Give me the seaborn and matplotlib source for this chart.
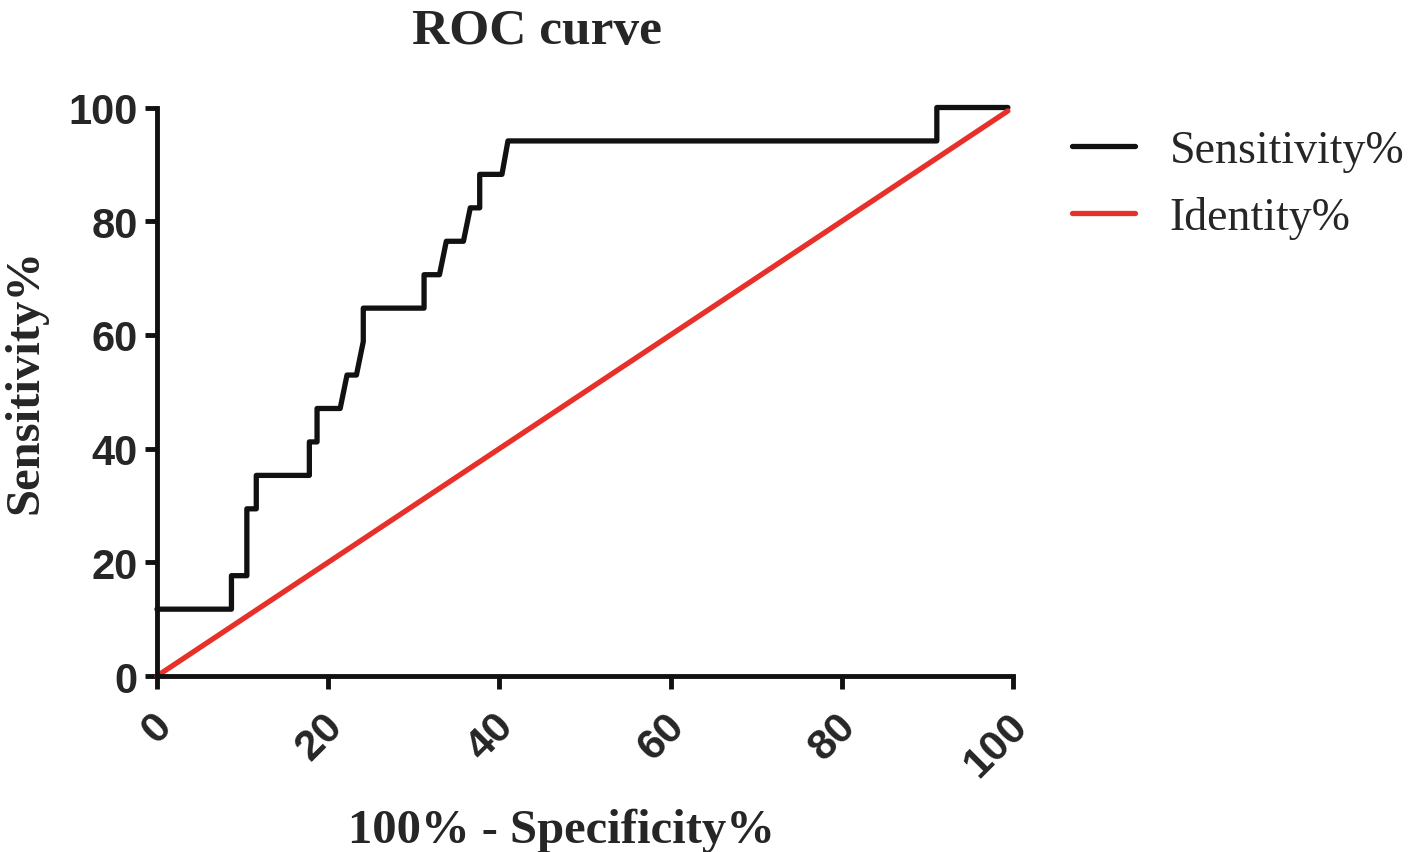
import seaborn as sns
import pandas as pd
import numpy as np
import matplotlib as mpl
import matplotlib.pyplot as plt
import matplotlib.transforms as mtransforms


# ROC curve points (100% - Specificity%, Sensitivity%)
fpr = [0, 8.7, 8.7, 10.5, 10.5, 11.6, 11.6, 17.8, 17.8, 18.7, 18.7, 21.4, 22.2,
       23.3, 24.1, 24.1, 31.2, 31.2, 33.0, 33.8, 35.8, 36.6, 37.7, 37.7, 40.3,
       41.0, 91.1, 91.1, 99.4]
sens = [11.76, 11.76, 17.65, 17.65, 29.41, 29.41, 35.29, 35.29, 41.18, 41.18,
        47.06, 47.06, 52.94, 52.94, 58.82, 64.71, 64.71, 70.59, 70.59, 76.47,
        76.47, 82.35, 82.35, 88.24, 88.24, 94.12, 94.12, 100, 100]
ident_x = [0, 99.4]
ident_y = [0, 99.4]
ticks = [0, 20, 40, 60, 80, 100]

sns.set_style('ticks')
plt.rcParams['font.family'] = ['Liberation Sans', 'DejaVu Sans']

fig = plt.figure(figsize=(14.18, 8.53), dpi=100)
ax = fig.add_axes([0.1107, 0.2063, 0.6037, 0.6665])

sns.lineplot(x=fpr, y=sens, sort=False, estimator=None, color='#111111',
             linewidth=3.8, label='Sensitivity%', ax=ax, clip_on=False)
sns.lineplot(x=ident_x, y=ident_y, sort=False, estimator=None, color='#e8302a',
             linewidth=3.8, label='Identity%', ax=ax, clip_on=False)

ax.set_xlim(0, 100)
ax.set_ylim(0, 100)
ax.set_xticks(ticks)
ax.set_yticks(ticks)
sns.despine(ax=ax)
for s in ['left', 'bottom']:
    ax.spines[s].set_linewidth(3.5)
    ax.spines[s].set_color('#111111')
ax.tick_params(width=3.5, length=9, color='#111111')
ax.tick_params(axis='y', pad=5)
ax.tick_params(axis='x', pad=22)

for lab in ax.get_yticklabels():
    lab.set_fontsize(30)
    lab.set_fontweight('bold')
off = mtransforms.ScaledTranslation(8 / 100, 0, fig.dpi_scale_trans)
for lab in ax.get_xticklabels():
    lab.set_fontsize(31)
    lab.set_fontweight('bold')
    lab.set_rotation(45)
    lab.set_ha('right')
    lab.set_va('center')
    lab.set_rotation_mode('anchor')
    lab.set_transform(lab.get_transform() + off)

serif = ['Liberation Serif', 'DejaVu Serif']
ax.set_xlabel('100% - Specificity%', family=serif, fontsize=35, fontweight='bold')
ax.set_ylabel('Sensitivity%', family=serif, fontsize=35, fontweight='bold')
ax.xaxis.set_label_coords(0.472, -0.27)
ax.yaxis.set_label_coords(-0.154, 0.52)
ax.xaxis.label.set_va('center')
ax.yaxis.label.set_va('center')

fig.text(0.379, 0.963, 'ROC curve', family=serif, fontsize=37, fontweight='bold',
         ha='center', va='center')

ax.legend(loc='upper left', bbox_to_anchor=(1.069, 0.962), frameon=False,
          prop={'family': serif, 'size': 33}, handlelength=1.37,
          handletextpad=0.76, labelspacing=0.54, borderpad=0, borderaxespad=0)

plt.savefig('out.png', dpi=100)
